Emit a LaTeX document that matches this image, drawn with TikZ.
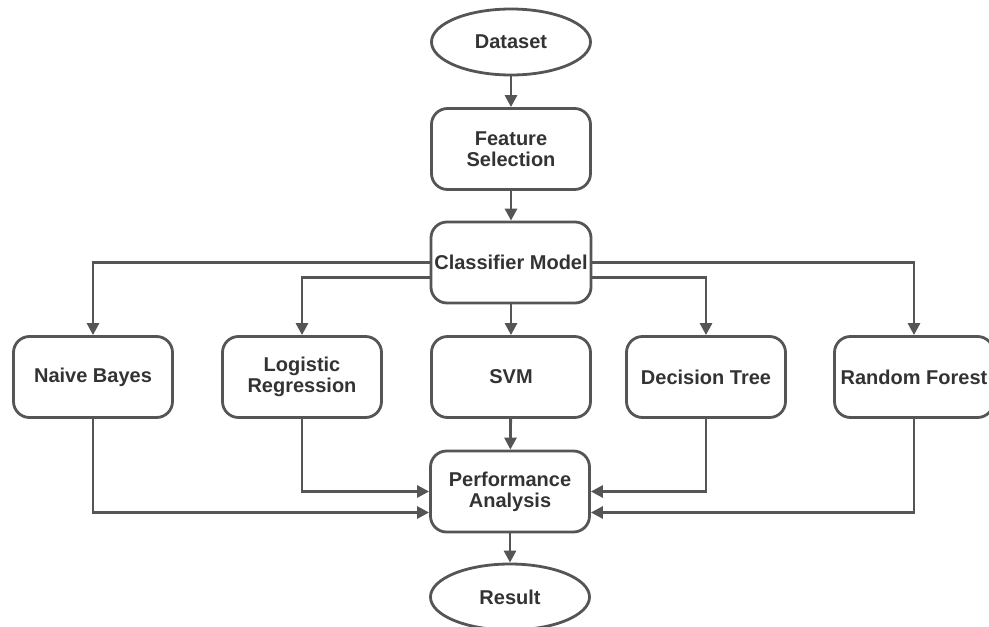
\documentclass[tikz,border=0pt]{standalone}
\usepackage{fontspec}
\setmainfont{Liberation Sans}
\usetikzlibrary{arrows.meta,shapes.geometric}
\definecolor{ln}{HTML}{555555}
\definecolor{tx}{HTML}{333333}
\begin{document}
\begin{tikzpicture}[x=1pt,y=-1pt,
  box/.style={draw=ln,line width=2.8pt,rounded corners=16pt,minimum width=159pt,minimum height=81pt,align=center,text=tx,font=\fontsize{20}{21}\selectfont\bfseries},
  oval/.style={draw=ln,line width=2.8pt,ellipse,minimum width=159pt,minimum height=66pt,text=tx,font=\fontsize{20}{21}\selectfont\bfseries},
  arr/.style={draw=ln,line width=2.8pt,-{Triangle[length=12pt,width=12pt]}}]
\useasboundingbox (0,0) rectangle (989,627);
\node[oval] (ds) at (511,42) {Dataset};
\node[box] (fs) at (511,149) {Feature\\Selection};
\node[box] (cm) at (511,262.5) {Classifier Model};
\node[box] (nb) at (93,377) {Naive Bayes};
\node[box] (lr) at (302,377) {Logistic\\Regression};
\node[box] (svm) at (511,377) {SVM};
\node[box] (dt) at (706,377) {Decision Tree};
\node[box] (rf) at (914,377) {Random Forest};
\node[box] (pa) at (510,491.5) {Performance\\Analysis};
\node[oval] (res) at (510,597) {Result};
\draw[arr] (ds) -- (fs);
\draw[arr] (fs) -- (cm);
\draw[arr] (cm.west) -| (nb.north);
\draw[arr] (cm.east) -| (rf.north);
\draw[arr] ([yshift=-15pt]cm.west) -| (lr.north);
\draw[arr] ([yshift=-15pt]cm.east) -| (dt.north);
\draw[arr] (cm) -- (svm);
\draw[arr] (svm) -- (pa);
\draw[arr] (lr.south) |- (pa.west);
\draw[arr] (nb.south) |- ([yshift=-21pt]pa.west);
\draw[arr] (dt.south) |- (pa.east);
\draw[arr] (rf.south) |- ([yshift=-21pt]pa.east);
\draw[arr] (pa) -- (res);
\end{tikzpicture}
\end{document}
